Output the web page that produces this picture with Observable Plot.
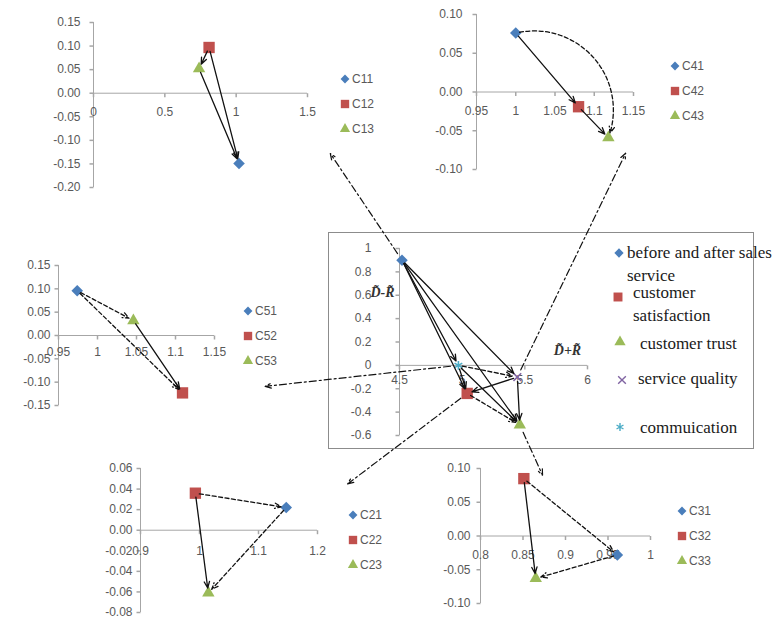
<!DOCTYPE html>
<html><head><meta charset="utf-8">
<script src="https://cdn.jsdelivr.net/npm/d3@7"></script>
<script src="https://cdn.jsdelivr.net/npm/@observablehq/plot@0.6"></script>
<style>
body{margin:0;background:#fff;}
#page{position:relative;width:774px;height:622px;overflow:hidden;background:#fff;}
.box{position:absolute;left:328px;top:232px;width:426px;height:217px;border:1px solid #8c8c8c;box-sizing:border-box;}
.lt{position:absolute;white-space:normal;}
</style></head><body><div id="page"><div class="box"></div></div>
<script>
// ---------------- data ----------------
const c1Names = ["C11","C12","C13"];
const c1X = [1.02, 0.81, 0.74];
const c1Y = [-0.149, 0.097, 0.052];
const c1XTicks = [0, 0.5, 1, 1.5];
const c1YTicks = [-0.20,-0.15,-0.10,-0.05,0,0.05,0.10,0.15];
const c1Arrows = [["C12","C13"],["C12","C11"],["C13","C11"]];

const c4Names = ["C41","C42","C43"];
const c4X = [1.00, 1.08, 1.118];
const c4Y = [0.076, -0.019, -0.059];
const c4XTicks = [0.95,1,1.05,1.1,1.15];
const c4YTicks = [-0.10,-0.05,0,0.05,0.10];
const c4Arrows = [["C41","C42"],["C42","C43"],["C41","C43"]];

const c5Names = ["C51","C52","C53"];
const c5X = [0.974, 1.109, 1.046];
const c5Y = [0.096, -0.123, 0.032];
const c5XTicks = [0.95,1,1.05,1.1,1.15];
const c5YTicks = [-0.15,-0.10,-0.05,0,0.05,0.10,0.15];
const c5Arrows = [["C51","C53"],["C51","C52"],["C53","C52"]];

const c2Names = ["C21","C22","C23"];
const c2X = [1.147, 0.993, 1.015];
const c2Y = [0.022, 0.036, -0.061];
const c2XTicks = [0.9,1,1.1,1.2];
const c2YTicks = [-0.08,-0.06,-0.04,-0.02,0,0.02,0.04,0.06];
const c2Arrows = [["C22","C21"],["C22","C23"],["C21","C23"]];

const c3Names = ["C31","C32","C33"];
const c3X = [0.961, 0.851, 0.865];
const c3Y = [-0.028, 0.085, -0.063];
const c3XTicks = [0.8,0.85,0.9,0.95,1];
const c3YTicks = [-0.10,-0.05,0,0.05,0.10];
const c3Arrows = [["C32","C33"],["C32","C31"],["C31","C33"]];

const coreNames = ["before and after sales service","customer satisfaction","customer trust","service quality","commuication"];
const coreX = [4.52, 5.04, 5.46, 5.44, 4.97];
const coreY = [0.90, -0.24, -0.51, -0.10, 0.00];
const coreXTicks = [4.5,5,5.5,6];
const coreYTicks = [-0.6,-0.4,-0.2,0,0.2,0.4,0.6,0.8,1];
const coreArrows = [
  ["before and after sales service","commuication"],
  ["before and after sales service","customer satisfaction"],
  ["before and after sales service","service quality"],
  ["before and after sales service","customer trust"],
  ["commuication","customer satisfaction"],
  ["commuication","service quality"],
  ["commuication","customer trust"],
  ["service quality","customer satisfaction"],
  ["service quality","customer trust"],
  ["customer satisfaction","customer trust"]
];
const coreXLabel = "D\u0303+R\u0303";
const coreYLabel = "D\u0303-R\u0303";

// links from main factors to their detail panels (target given in the panel's own data space)
const zoomFrom = ["before and after sales service","service quality","commuication","customer satisfaction","customer trust"];
const zoomTo = ["C1","C4","C5","C2","C3"];
const zoomToX = [1.66, 1.14, 1.215, 1.251, 0.873];
const zoomToY = [-0.128, -0.079, -0.109, 0.045, 0.09];

// ---------------- drawing ----------------
const W = 774, H = 622;
const page = document.getElementById("page");
const GRAY = "#595959", AXIS = "#a6a6a6", INK = "#111";
const COLORS = ["#4a7ebb","#c0504d","#9bbb59","#8064a2","#4bacc6"];
const SYMBOLS = ["diamond2","square","triangle","times","asterisk"];
const D3SYM = [d3.symbolDiamond2, d3.symbolSquare, d3.symbolTriangle, d3.symbolTimes, d3.symbolAsterisk];
const STROKE_SYM = [false,false,false,true,true];
const SIZES = [5.2, 6.4, 4.6, 3.6, 4.2];
const TICK_DOWN = {draw(c, s){const r=Math.sqrt(s/Math.PI); c.moveTo(0,0); c.lineTo(0,r);}};
const TICK_LEFT = {draw(c, s){const r=Math.sqrt(s/Math.PI); c.moveTo(-r,0); c.lineTo(0,0);}};
const fmt2 = d => d.toFixed(2);
const fmtG = d => String(d);

function makePanel(cfg) {
  const {names, xs, ys, xTicks, yTicks, arrows, frame, fx, fy, xdy, ydx, dashed = [], bent = {}, extra = []} = cfg;
  const pts = names.map((n, i) => ({name: n, x: xs[i], y: ys[i], i}));
  const by = new Map(pts.map(p => [p.name, p]));
  const links = arrows.map(([a, b]) => ({a: by.get(a), b: by.get(b), key: a + ">" + b}));
  const solid = links.filter(l => !dashed.includes(l.key) && !(l.key in bent));
  const dash = links.filter(l => dashed.includes(l.key) && !(l.key in bent));
  const curved = links.filter(l => l.key in bent);
  const ao = {x1: d => d.a.x, y1: d => d.a.y, x2: d => d.b.x, y2: d => d.b.y,
    stroke: INK, strokeWidth: 1.3, headLength: 8, headAngle: 45, insetStart: 4, insetEnd: 5};
  const txt = {fill: GRAY, fontSize: 12, fontFamily: "Liberation Sans"};
  const plot = Plot.plot({
    width: W, height: H,
    marginLeft: frame.left, marginRight: W - frame.right, marginTop: frame.top, marginBottom: H - frame.bottom,
    x: {domain: [xTicks[0], xTicks[xTicks.length - 1]], axis: null},
    y: {domain: [yTicks[0], yTicks[yTicks.length - 1]], axis: null},
    style: {background: "none", overflow: "visible", fontFamily: "Liberation Sans"},
    marks: [
      Plot.ruleY([0], {stroke: AXIS}),
      Plot.ruleX([xTicks[0]], {stroke: AXIS}),
      Plot.dot(xTicks, {x: d => d, y: 0, symbol: TICK_DOWN, r: 4, stroke: AXIS, fill: "none"}),
      Plot.dot(yTicks, {x: xTicks[0], y: d => d, symbol: TICK_LEFT, r: 4, stroke: AXIS, fill: "none"}),
      Plot.text(xTicks, {x: d => d, y: 0, text: fx, dy: xdy, ...txt}),
      Plot.text(yTicks, {x: xTicks[0], y: d => d, text: fy, dx: ydx, textAnchor: "end", ...txt}),
      ...extra,
      ...pts.map(p => Plot.dot([p], {x: "x", y: "y", symbol: SYMBOLS[p.i], r: SIZES[p.i],
        ...(STROKE_SYM[p.i] ? {stroke: COLORS[p.i], fill: "none", strokeWidth: 1.6} : {fill: COLORS[p.i], stroke: "none"})})),
      Plot.arrow(solid, ao),
      Plot.arrow(dash, {...ao, strokeDasharray: "4,2.5"}),
      ...curved.map(l => Plot.arrow([l], {...ao, bend: bent[l.key], strokeDasharray: "4,2.5"}))
    ]
  });
  plot.style.position = "absolute"; plot.style.left = "0px"; plot.style.top = "0px";
  page.appendChild(plot);
  const sx = plot.scale("x"), sy = plot.scale("y");
  return {plot, by, toPx: (x, y) => [sx.apply(x), sy.apply(y)]};
}

const panels = {};
panels.C1 = makePanel({names: c1Names, xs: c1X, ys: c1Y, xTicks: c1XTicks, yTicks: c1YTicks, arrows: c1Arrows,
  frame: {left: 93, right: 307, top: 22, bottom: 187}, fx: fmtG, fy: fmt2, xdy: 19, ydx: -13});
panels.C4 = makePanel({names: c4Names, xs: c4X, ys: c4Y, xTicks: c4XTicks, yTicks: c4YTicks, arrows: c4Arrows,
  frame: {left: 476, right: 633, top: 14, bottom: 169}, fx: fmtG, fy: fmt2, xdy: 19, ydx: -14,
  bent: {"C41>C43": 62}});
panels.C5 = makePanel({names: c5Names, xs: c5X, ys: c5Y, xTicks: c5XTicks, yTicks: c5YTicks, arrows: c5Arrows,
  frame: {left: 58, right: 214, top: 265, bottom: 405}, fx: fmtG, fy: fmt2, xdy: 17, ydx: -8,
  dashed: ["C51>C53","C51>C52"]});
panels.C2 = makePanel({names: c2Names, xs: c2X, ys: c2Y, xTicks: c2XTicks, yTicks: c2YTicks, arrows: c2Arrows,
  frame: {left: 140, right: 317, top: 468, bottom: 612}, fx: fmtG, fy: fmt2, xdy: 21, ydx: -8,
  dashed: ["C22>C21","C21>C23"]});
panels.C3 = makePanel({names: c3Names, xs: c3X, ys: c3Y, xTicks: c3XTicks, yTicks: c3YTicks, arrows: c3Arrows,
  frame: {left: 480, right: 650, top: 468, bottom: 603}, fx: fmtG, fy: fmt2, xdy: 19, ydx: -10,
  dashed: ["C32>C31","C31>C33"]});
const core = makePanel({names: coreNames, xs: coreX, ys: coreY, xTicks: coreXTicks, yTicks: coreYTicks, arrows: coreArrows,
  frame: {left: 399, right: 587, top: 248, bottom: 435}, fx: fmtG, fy: fmtG, xdy: 15, ydx: -28,
  dashed: ["commuication>service quality","customer satisfaction>customer trust"],
  extra: [
    Plot.text([coreXLabel], {frameAnchor: "top-right", dx: -20, dy: 97, textAnchor: "middle", fontFamily: "Liberation Serif", fontWeight: "bold", fontStyle: "italic", fontSize: 14, fill: "#333"}),
    Plot.text([coreYLabel], {frameAnchor: "top-left", dx: -17, dy: 39, textAnchor: "middle", fontFamily: "Liberation Serif", fontWeight: "bold", fontStyle: "italic", fontSize: 14, fill: "#333"})
  ]});

// dashed connectors from the main factor chart to the detail panels
const connectors = zoomFrom.map((f, i) => {
  const p = core.by.get(f);
  const [x1, y1] = core.toPx(p.x, p.y);
  const [x2, y2] = panels[zoomTo[i]].toPx(zoomToX[i], zoomToY[i]);
  return {x1, y1, x2, y2};
});
const over = Plot.plot({
  width: W, height: H, margin: 0,
  x: {type: "identity", axis: null}, y: {type: "identity", axis: null},
  style: {background: "none", overflow: "visible"},
  marks: [Plot.arrow(connectors, {x1: "x1", y1: "y1", x2: "x2", y2: "y2", stroke: INK, strokeWidth: 1.2,
    strokeDasharray: "7,3,2,3", headLength: 8, headAngle: 45, insetStart: 8})]
});
over.style.position = "absolute"; over.style.left = "0px"; over.style.top = "0px";
page.appendChild(over);

// ---------------- legends ----------------
function marker(x, y, i, s) {
  const svg = d3.create("svg").attr("width", 20).attr("height", 20)
    .style("position", "absolute").style("left", (x - 10) + "px").style("top", (y - 10) + "px");
  svg.append("path").attr("transform", "translate(10,10)")
    .attr("d", d3.symbol(D3SYM[i], s)())
    .attr("fill", STROKE_SYM[i] ? "none" : COLORS[i])
    .attr("stroke", STROKE_SYM[i] ? COLORS[i] : "none").attr("stroke-width", 1.4);
  page.appendChild(svg.node());
}
function label(x, y, text, font, color, width, lh) {
  const d = document.createElement("div");
  d.className = "lt";
  d.textContent = text;
  d.style.left = x + "px"; d.style.top = (y - lh / 2) + "px";
  d.style.font = font; d.style.lineHeight = lh + "px"; d.style.color = color;
  if (width) d.style.width = width + "px";
  page.appendChild(d);
}
const smallLegends = [
  [c1Names, 345, 79], [c4Names, 675, 66], [c5Names, 248, 311], [c2Names, 353, 515], [c3Names, 682, 511]
];
const smallSizes = [50, 70, 45];
for (const [names, mx, my] of smallLegends) {
  names.forEach((n, i) => {
    marker(mx, my + i * 25, i, smallSizes[i]);
    label(mx + 7, my + i * 25, n, "12px 'Liberation Sans'", GRAY, null, 16);
  });
}
const coreLeg = [
  {mx: 619, my: 253, tx: 627, ty: 252, w: 160},
  {mx: 618, my: 297, tx: 633, ty: 292, w: 118},
  {mx: 620, my: 342, tx: 640, ty: 343, w: 150},
  {mx: 622, my: 380, tx: 638, ty: 378, w: 150},
  {mx: 620, my: 427, tx: 640, ty: 427, w: 150}
];
const coreLegSizes = [55, 80, 55, 40, 45];
coreNames.forEach((n, i) => {
  const L = coreLeg[i];
  marker(L.mx, L.my, i, coreLegSizes[i]);
  label(L.tx, L.ty, n, "17px 'Liberation Serif'", "#1a1a1a", L.w, 23);
});
</script>
</body></html>
